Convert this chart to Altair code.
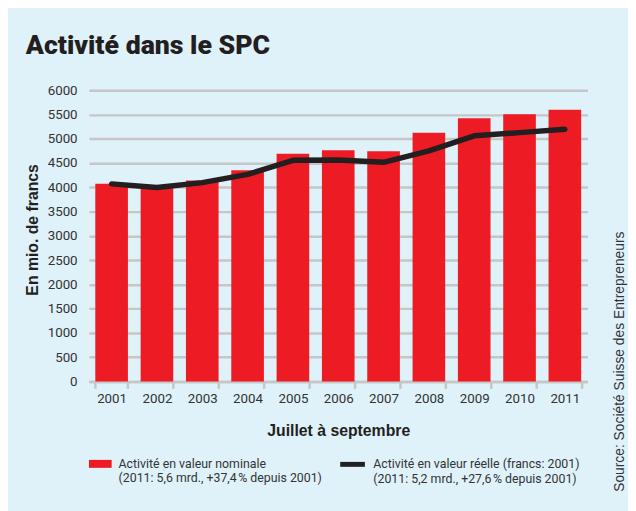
import altair as alt
import pandas as pd

years = ["2001", "2002", "2003", "2004", "2005", "2006", "2007", "2008", "2009", "2010", "2011"]
nominal = [4070, 4010, 4140, 4350, 4690, 4760, 4740, 5125, 5420, 5505, 5595]
real = [4070, 3995, 4095, 4265, 4555, 4560, 4515, 4750, 5060, 5125, 5195]
y_ticks = [0, 500, 1000, 1500, 2000, 2500, 3000, 3500, 4000, 4500, 5000, 5500, 6000]

label_nominal = "Activité en valeur nominale|(2011: 5,6 mrd., +37,4\u202f% depuis 2001)"
label_real = "Activité en valeur réelle (francs: 2001)|(2011: 5,2 mrd., +27,6\u202f% depuis 2001)"
title_text = "Activité dans le SPC"
x_title = "Juillet à septembre"
y_title = "En mio. de francs"
source_text = "Source: Société Suisse des Entrepreneurs"

df = pd.DataFrame({
    "annee": years,
    "nominal": nominal,
    "reel": real,
    "s_bar": [label_nominal] * len(years),
    "s_line": [label_real] * len(years),
})

NARROW = "Roboto"
REG = "Liberation Sans"
TXT = "#333333"
GRID = "#c6c6c6"

x_axis = alt.Axis(
    title=x_title, labelAngle=0, tickBand="extent", tickSize=7, tickWidth=2.5,
    tickColor=GRID, domainColor=GRID, domainWidth=2.5, labelPadding=3,
    labelFont=NARROW, labelFontSize=13.5, labelColor=TXT,
    titleFont=REG, titleFontSize=16, titleFontWeight="bold", titleColor="#231f20",
    titlePadding=18, grid=False,
)
y_axis = alt.Axis(
    values=y_ticks, format="d", title=y_title, ticks=False, domain=False, labelPadding=12,
    labelFont=NARROW, labelFontSize=13.5, labelColor=TXT, labelOverlap=False,
    gridColor=GRID, gridWidth=2.5,
    titleFont=REG, titleFontSize=16, titleFontWeight="bold", titleColor="#231f20",
    titleX=-57, titleY=141, titleAngle=270, titleBaseline="middle", titleAlign="center",
)
x_scale = alt.Scale(paddingInner=0.28, paddingOuter=0.14)
y_scale = alt.Scale(domain=[0, 6000], nice=False)

bars = alt.Chart(df).mark_bar(stroke=None).encode(
    x=alt.X("annee:N", scale=x_scale, axis=x_axis),
    y=alt.Y("nominal:Q", scale=y_scale, axis=y_axis),
    fill=alt.Fill(
        "s_bar:N",
        scale=alt.Scale(domain=[label_nominal], range=["#ed1c24"]),
        legend=alt.Legend(
            title=None, orient="none", legendX=0, legendY=367, padding=0,
            symbolType="M-1,-0.35L1,-0.35L1,0.35L-1,0.35Z", symbolSize=529,
            symbolStrokeWidth=0, labelOffset=7,
            labelFont=NARROW, labelFontSize=12.5, labelColor=TXT, labelLimit=400,
            labelExpr="split(datum.label, '|')", labelBaseline="middle",
        ),
    ),
)

line = alt.Chart(df).mark_line(strokeWidth=5.5, strokeCap="round", strokeJoin="round").encode(
    x=alt.X("annee:N", scale=x_scale, axis=x_axis),
    y=alt.Y("reel:Q", scale=y_scale, axis=y_axis),
    stroke=alt.Stroke(
        "s_line:N",
        scale=alt.Scale(domain=[label_real], range=["#231f20"]),
        legend=alt.Legend(
            title=None, orient="none", legendX=252, legendY=364, padding=0,
            symbolType="stroke", symbolSize=625, symbolStrokeWidth=5, labelOffset=6,
            labelFont=NARROW, labelFontSize=12.5, labelColor=TXT, labelLimit=400,
            labelExpr="split(datum.label, '|')", labelBaseline="middle",
        ),
    ),
)

source = alt.Chart(pd.DataFrame({"t": [source_text]})).mark_text(
    angle=270, font=REG, fontSize=14, color=TXT, align="center", baseline="middle"
).encode(
    x=alt.value(538), y=alt.value(275), text="t:N"
)

chart = alt.layer(bars, line, source).resolve_scale(
    fill="independent", stroke="independent"
).properties(
    width=505,
    height=295,
    background="#dff2fa",
    padding={"left": 82, "top": 80, "right": 41, "bottom": 128},
    autosize=alt.AutoSizeParams(type="none"),
    title=alt.TitleParams(
        text=title_text, anchor="start", frame="group", dx=-64, offset=3,
        baseline="alphabetic", font="Roboto", fontSize=27, fontWeight=900, color="#231f20",
    ),
).configure_view(stroke=None)

chart.save("out.html", embed_options={"renderer": "svg", "actions": False})
